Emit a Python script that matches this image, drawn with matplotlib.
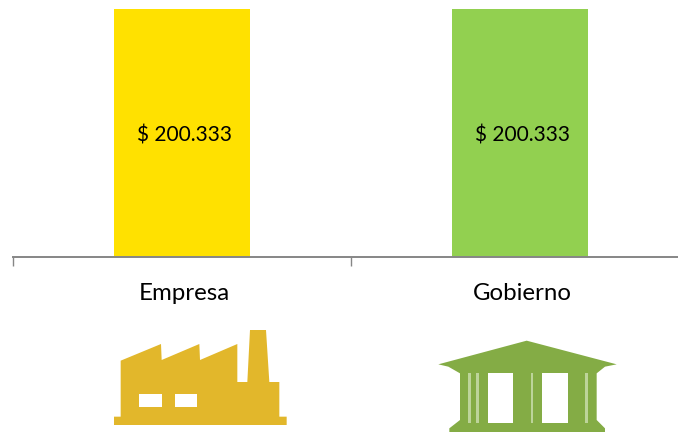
import matplotlib
matplotlib.use('Agg')
import matplotlib.pyplot as plt
from matplotlib.patches import Polygon

categories = ['Empresa', 'Gobierno']
values = [200333, 200333]
value_labels = ['$ 200.333', '$ 200.333']
bar_colors = ['#FFE100', '#92D050']

W, H = 678, 432
plt.rcParams['font.family'] = ['Lato', 'DejaVu Sans']
fig = plt.figure(figsize=(W / 100, H / 100), dpi=100)

# the axis runs past the right edge of the picture (last tick at x=689)
ax = fig.add_axes([13 / W, (H - 257) / H, 676 / W, 248 / H])
ax.set_facecolor('none')
x = list(range(len(categories)))
ax.bar(x, values, width=0.402, color=bar_colors)
ax.set_xlim(-0.5, 1.5)
ax.set_ylim(0, max(values))
ax.set_yticks([])
for s in ['top', 'left', 'right']:
    ax.spines[s].set_visible(False)
ax.spines['bottom'].set_color('#868686')
ax.spines['bottom'].set_linewidth(1.4)
ax.set_xticks([-0.5, 0.5, 1.5])
ax.set_xticklabels([])
ax.tick_params(axis='x', length=6.5, width=1.0, color='#868686')

for i in x:
    ax.annotate(value_labels[i], (i, values[i] / 2), xytext=(2, -1.5), textcoords='offset points',
                ha='center', va='center', fontsize=15, color='black')
    ax.annotate(categories[i], (i, 0), xytext=(2, -26), textcoords='offset points',
                ha='center', va='center', fontsize=17.3, color='black')

# icons, traced in pixels of the picture
icons = fig.add_axes([0, 0, 1, 1])
icons.set_xlim(0, W)
icons.set_ylim(H, 0)
icons.axis('off')
icons.patch.set_alpha(0)


def px(points, ox, oy):
    return [(ox + a / 3, oy + b / 3) for a, b in points]


def box(x0, y0, x1, y1, ox, oy, color):
    icons.add_patch(Polygon(px([(x0, y0), (x1, y0), (x1, y1), (x0, y1)], ox, oy), closed=True, fc=color, ec='none'))


gold = '#E2B72B'
factory = [(72, 290), (92, 290), (92, 122), (213, 72), (215, 120), (328, 72), (330, 120), (442, 72),
           (442, 186), (472, 186), (480, 30), (528, 30), (538, 186), (568, 186), (568, 290),
           (590, 290), (590, 315), (72, 315)]
icons.add_patch(Polygon(px(factory, 90, 320), closed=True, fc=gold, ec='none'))
box(148, 222, 216, 262, 90, 320, 'white')
box(255, 222, 322, 262, 90, 320, 'white')

olive = '#84AC45'
temple = [(55, 133), (320, 62), (590, 133), (555, 140), (530, 160), (530, 300), (555, 325), (555, 337),
          (88, 337), (88, 325), (120, 300), (120, 160), (85, 140)]
icons.add_patch(Polygon(px(temple, 420, 320), closed=True, fc=olive, ec='none'))
box(203, 160, 280, 308, 420, 320, 'white')
box(367, 160, 444, 308, 420, 320, 'white')
for sx in [148, 173, 336, 500]:
    box(sx - 4, 160, sx + 4, 308, 420, 320, '#BDD49A')

fig.savefig('out.png', dpi=100)
